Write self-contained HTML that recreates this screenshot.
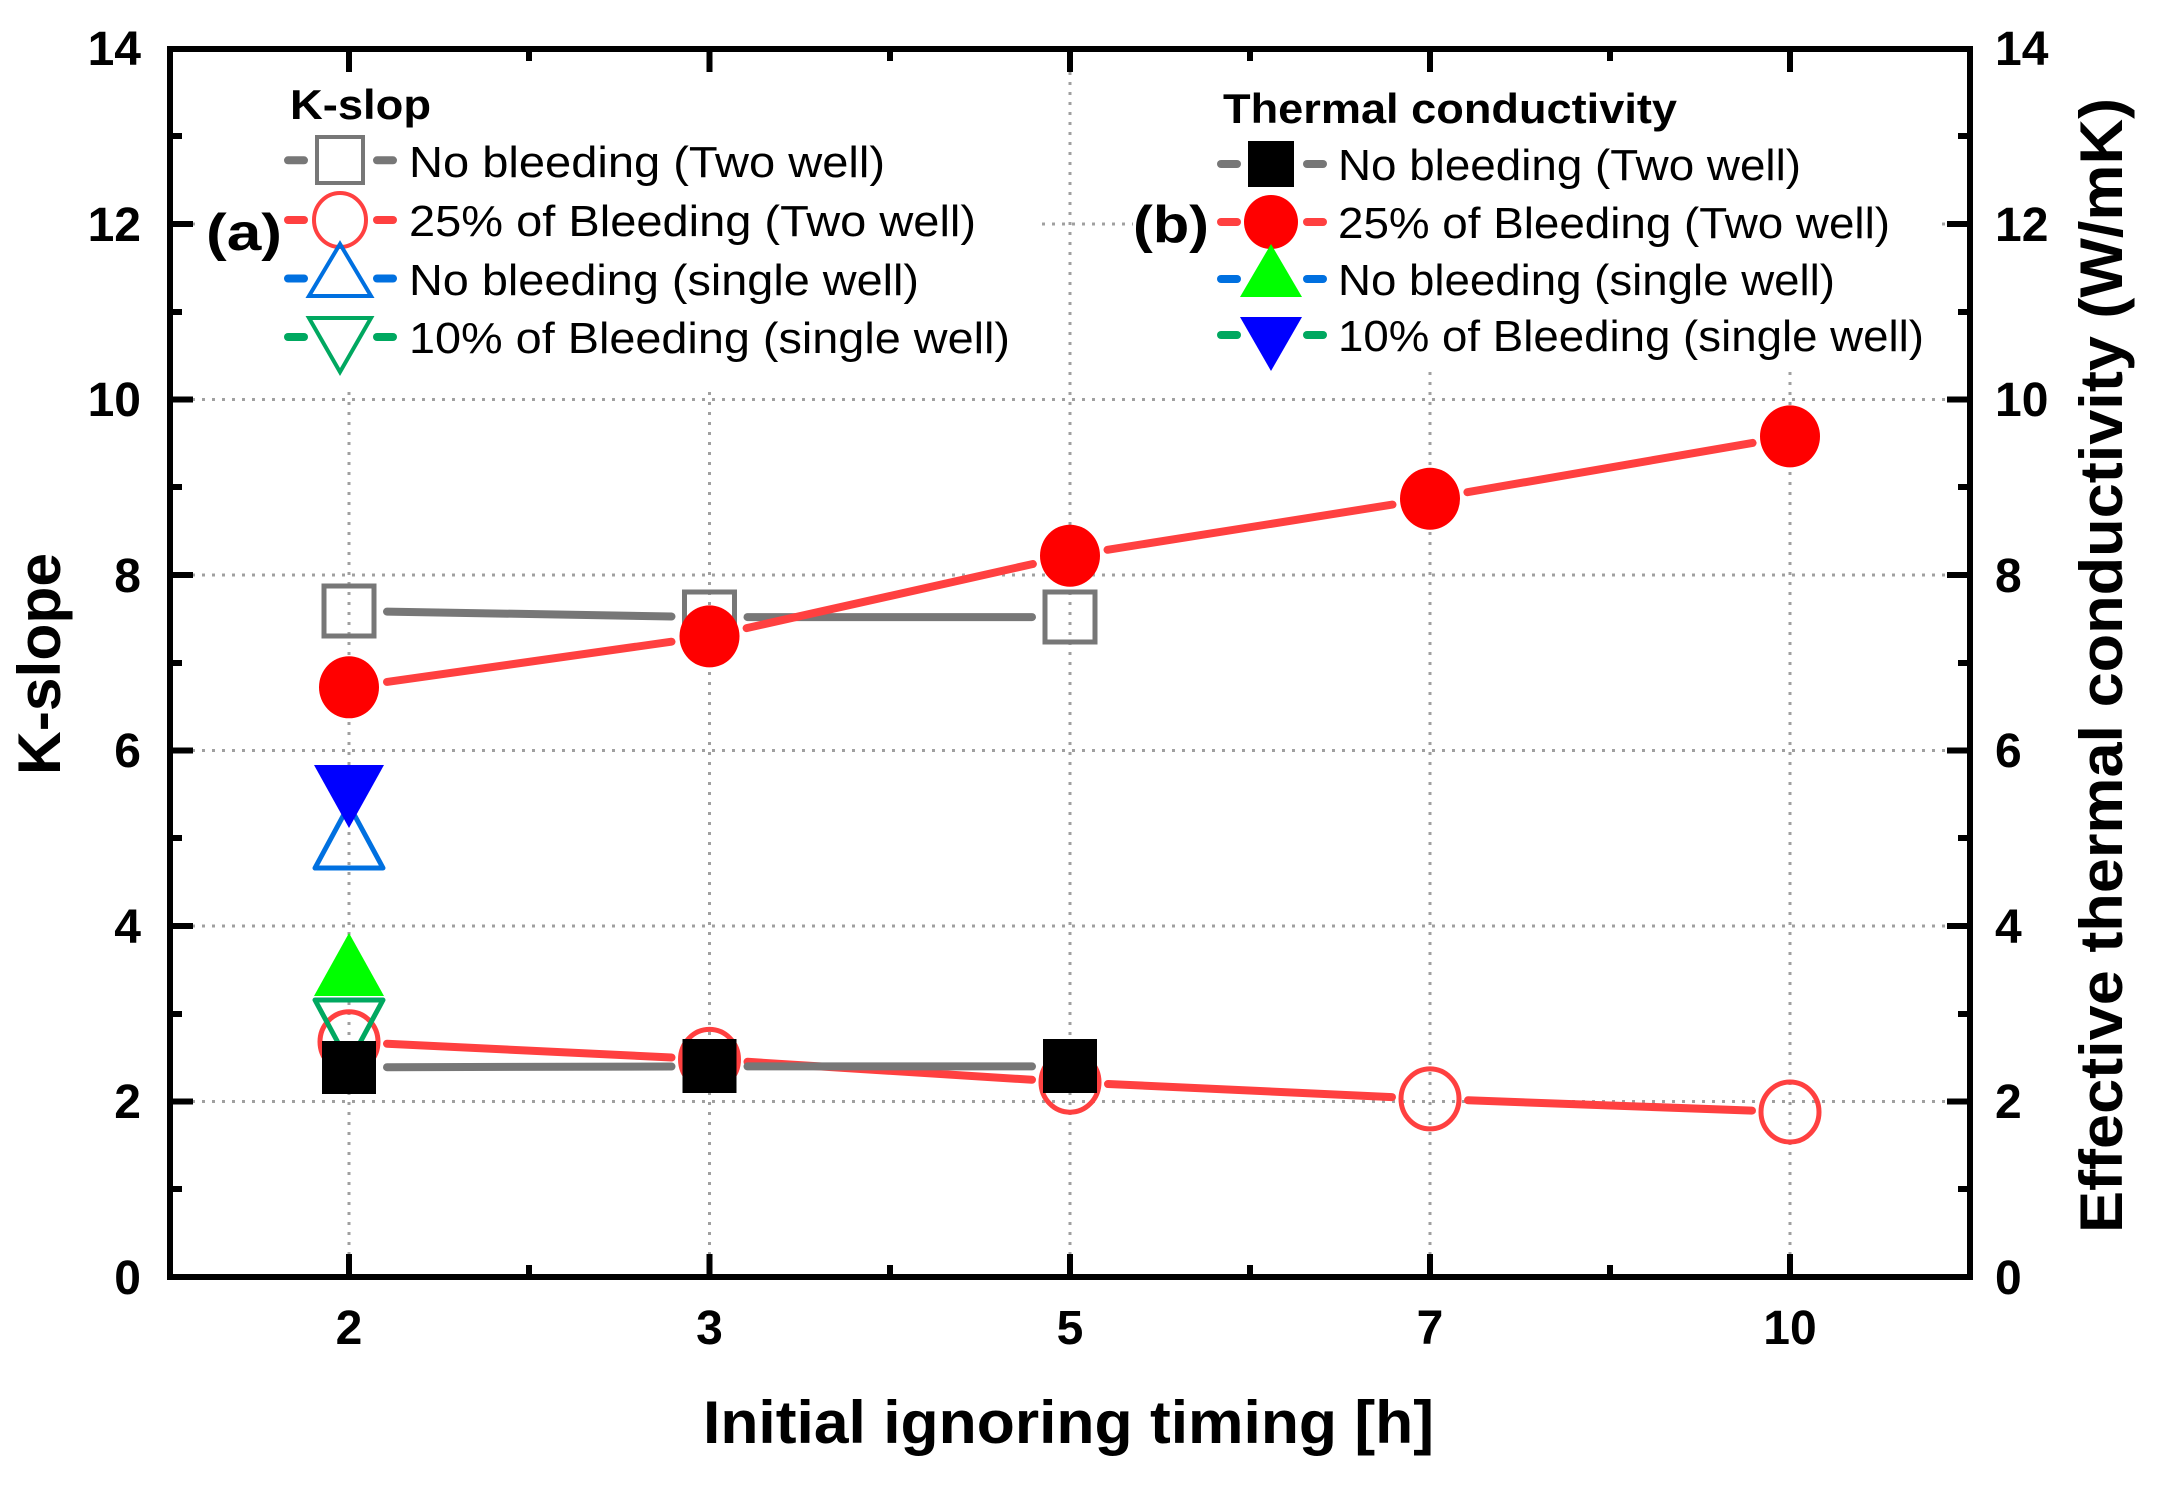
<!DOCTYPE html>
<html><head><meta charset="utf-8"><style>
html,body{margin:0;padding:0;background:#fff}
svg{display:block}
text{font-family:"Liberation Sans",Arial,sans-serif}
</style></head><body>
<svg width="2166" height="1489" viewBox="0 0 2166 1489" xmlns="http://www.w3.org/2000/svg">
<rect width="2166" height="1489" fill="#fff"/>
<!-- grid -->
<g stroke="#a0a0a0" stroke-width="3" stroke-dasharray="3 7" fill="none">
<line x1="172" y1="1101.5" x2="1968" y2="1101.5"/>
<line x1="172" y1="926" x2="1968" y2="926"/>
<line x1="172" y1="750.5" x2="1968" y2="750.5"/>
<line x1="172" y1="575" x2="1968" y2="575"/>
<line x1="172" y1="399.5" x2="1968" y2="399.5"/>
<line x1="172" y1="224" x2="1968" y2="224"/>
<line x1="349" y1="52" x2="349" y2="1275"/>
<line x1="709.5" y1="52" x2="709.5" y2="1275"/>
<line x1="1070" y1="52" x2="1070" y2="1275"/>
<line x1="1430" y1="52" x2="1430" y2="1275"/>
<line x1="1790" y1="52" x2="1790" y2="1275"/>
</g>
<!-- legend backgrounds -->
<rect x="196" y="52" width="844" height="338" fill="#fff"/>
<rect x="1133" y="52" width="802" height="320" fill="#fff"/>
<!-- axes frame -->
<rect x="170" y="49" width="1800" height="1228" fill="none" stroke="#000" stroke-width="6"/>
<g stroke="#000" stroke-width="6">
<line x1="349" y1="1277" x2="349" y2="1254"/><line x1="709.5" y1="1277" x2="709.5" y2="1254"/><line x1="1070" y1="1277" x2="1070" y2="1254"/><line x1="1430" y1="1277" x2="1430" y2="1254"/><line x1="1790" y1="1277" x2="1790" y2="1254"/>
<line x1="529" y1="1277" x2="529" y2="1265"/><line x1="890" y1="1277" x2="890" y2="1265"/><line x1="1250" y1="1277" x2="1250" y2="1265"/><line x1="1610" y1="1277" x2="1610" y2="1265"/>
<line x1="349" y1="49" x2="349" y2="72"/><line x1="709.5" y1="49" x2="709.5" y2="72"/><line x1="1070" y1="49" x2="1070" y2="72"/><line x1="1430" y1="49" x2="1430" y2="72"/><line x1="1790" y1="49" x2="1790" y2="72"/>
<line x1="529" y1="49" x2="529" y2="61"/><line x1="890" y1="49" x2="890" y2="61"/><line x1="1250" y1="49" x2="1250" y2="61"/><line x1="1610" y1="49" x2="1610" y2="61"/>
<line x1="170" y1="1101.5" x2="193" y2="1101.5"/><line x1="170" y1="926" x2="193" y2="926"/><line x1="170" y1="750.5" x2="193" y2="750.5"/><line x1="170" y1="575" x2="193" y2="575"/><line x1="170" y1="399.5" x2="193" y2="399.5"/><line x1="170" y1="224" x2="193" y2="224"/>
<line x1="170" y1="1189" x2="182" y2="1189"/><line x1="170" y1="1014" x2="182" y2="1014"/><line x1="170" y1="838" x2="182" y2="838"/><line x1="170" y1="663" x2="182" y2="663"/><line x1="170" y1="487" x2="182" y2="487"/><line x1="170" y1="312" x2="182" y2="312"/><line x1="170" y1="136" x2="182" y2="136"/>
<line x1="1970" y1="1101.5" x2="1947" y2="1101.5"/><line x1="1970" y1="926" x2="1947" y2="926"/><line x1="1970" y1="750.5" x2="1947" y2="750.5"/><line x1="1970" y1="575" x2="1947" y2="575"/><line x1="1970" y1="399.5" x2="1947" y2="399.5"/><line x1="1970" y1="224" x2="1947" y2="224"/>
<line x1="1970" y1="1189" x2="1958" y2="1189"/><line x1="1970" y1="1014" x2="1958" y2="1014"/><line x1="1970" y1="838" x2="1958" y2="838"/><line x1="1970" y1="663" x2="1958" y2="663"/><line x1="1970" y1="487" x2="1958" y2="487"/><line x1="1970" y1="312" x2="1958" y2="312"/><line x1="1970" y1="136" x2="1958" y2="136"/>
</g>
<!-- tick labels -->
<g font-size="48" font-weight="bold" fill="#000">
<g text-anchor="end">
<text x="141" y="1294">0</text><text x="141" y="1118">2</text><text x="141" y="943">4</text><text x="141" y="767">6</text><text x="141" y="592">8</text><text x="141" y="416">10</text><text x="141" y="241">12</text><text x="141" y="65">14</text>
</g>
<g text-anchor="start">
<text x="1995" y="1294">0</text><text x="1995" y="1118">2</text><text x="1995" y="943">4</text><text x="1995" y="767">6</text><text x="1995" y="592">8</text><text x="1995" y="416">10</text><text x="1995" y="241">12</text><text x="1995" y="65">14</text>
</g>
<g text-anchor="middle">
<text x="349" y="1344">2</text><text x="709.5" y="1344">3</text><text x="1070" y="1344">5</text><text x="1430" y="1344">7</text><text x="1790" y="1344">10</text>
</g>
</g>
<!-- axis titles -->
<text x="703" y="1443" font-size="60" font-weight="bold" textLength="731" lengthAdjust="spacingAndGlyphs">Initial ignoring timing [h]</text>
<text transform="translate(60,775) rotate(-90)" font-size="60" font-weight="bold" textLength="222" lengthAdjust="spacingAndGlyphs">K-slope</text>
<text transform="translate(2122,1233) rotate(-90)" font-size="60" font-weight="bold" textLength="1135" lengthAdjust="spacingAndGlyphs">Effective thermal conductivity (W/mK)</text>

<!-- series lines -->
<g fill="none" stroke-linecap="round" stroke-width="8">
<g stroke="#777">
<line x1="387" y1="611.6" x2="671.5" y2="616.5"/><line x1="747.5" y1="617.1" x2="1032" y2="617.1"/>
</g>
<g stroke="#ff4040">
<line x1="387" y1="1043.7" x2="671.5" y2="1057.5"/><line x1="747.5" y1="1061.8" x2="1032" y2="1079.8"/><line x1="1108" y1="1084" x2="1392" y2="1097.1"/><line x1="1468" y1="1100.3" x2="1752" y2="1110.6"/>
</g>
</g>
<g fill="none" stroke-width="5">
<g stroke="#777">
<rect x="324" y="586" width="50" height="50"/><rect x="684.5" y="592" width="50" height="50"/><rect x="1045" y="592" width="50" height="50"/>
</g>
<g stroke="#ff4040">
<ellipse cx="349" cy="1041.8" rx="29" ry="30"/><ellipse cx="709.5" cy="1059.4" rx="29" ry="30"/><ellipse cx="1070" cy="1082.2" rx="29" ry="30"/><ellipse cx="1430" cy="1098.9" rx="29" ry="30"/><ellipse cx="1790" cy="1112" rx="29" ry="30"/>
</g>
<polygon stroke="#0070e0" stroke-linejoin="round" points="349,805 315,868 383,868"/>
<polygon stroke="#00a860" stroke-linejoin="round" points="315,1000 383,1000 349,1063"/>
</g>
<g fill="none" stroke-linecap="round" stroke-width="8">
<g stroke="#777">
<line x1="387" y1="1067.2" x2="671.5" y2="1066.5"/><line x1="747.5" y1="1066.4" x2="1032" y2="1066.4"/>
</g>
<g stroke="#ff4040">
<line x1="387" y1="681.9" x2="671.5" y2="641.7"/><line x1="746.6" y1="628.1" x2="1032.9" y2="564"/><line x1="1107.5" y1="549.8" x2="1392.5" y2="504.6"/><line x1="1467.4" y1="492.2" x2="1752.6" y2="442.9"/>
</g>
</g>
<g fill="#000">
<rect x="322" y="1041" width="54" height="53"/><rect x="682.5" y="1039" width="54" height="54"/><rect x="1043" y="1039" width="54" height="54"/>
</g>
<g fill="#ff0000">
<ellipse cx="349" cy="687.3" rx="30" ry="31"/><ellipse cx="709.5" cy="636.4" rx="30" ry="31"/><ellipse cx="1070" cy="555.7" rx="30" ry="31"/><ellipse cx="1430" cy="498.7" rx="30" ry="31"/><ellipse cx="1790" cy="436.4" rx="30" ry="31"/>
</g>
<polygon fill="#00ff00" points="349,933 314,996 384,996"/>
<polygon fill="#0000ff" points="314,765 384,765 349,828"/>

<!-- legend (a) -->
<text x="290" y="119" font-size="42" font-weight="bold" textLength="141" lengthAdjust="spacingAndGlyphs">K-slop</text>
<text x="206" y="250" font-size="52" font-weight="bold" textLength="76" lengthAdjust="spacingAndGlyphs">(a)</text>
<g stroke-width="8" stroke-linecap="round">
<line x1="288" y1="160.3" x2="304" y2="160.3" stroke="#777"/><line x1="377" y1="160.3" x2="393" y2="160.3" stroke="#777"/>
<line x1="288" y1="220" x2="304" y2="220" stroke="#ff4040"/><line x1="377" y1="220" x2="393" y2="220" stroke="#ff4040"/>
<line x1="288" y1="278.5" x2="304" y2="278.5" stroke="#0070e0"/><line x1="377" y1="278.5" x2="393" y2="278.5" stroke="#0070e0"/>
<line x1="288" y1="337" x2="304" y2="337" stroke="#00a860"/><line x1="377" y1="337" x2="393" y2="337" stroke="#00a860"/>
</g>
<g fill="none" stroke-width="4">
<rect x="317" y="137" width="46" height="46" stroke="#777"/>
<ellipse cx="340" cy="220" rx="26" ry="27" stroke="#ff4040"/>
<polygon points="340,244 309,296 371,296" stroke="#0070e0"/>
<polygon points="309,318 371,318 340,372" stroke="#00a860"/>
</g>
<g font-size="44">
<text x="409" y="177" textLength="476" lengthAdjust="spacingAndGlyphs">No bleeding (Two well)</text>
<text x="409" y="236" textLength="567" lengthAdjust="spacingAndGlyphs">25% of Bleeding (Two well)</text>
<text x="409" y="295" textLength="510" lengthAdjust="spacingAndGlyphs">No bleeding (single well)</text>
<text x="409" y="353" textLength="601" lengthAdjust="spacingAndGlyphs">10% of Bleeding (single well)</text>
</g>

<!-- legend (b) -->
<text x="1223" y="123" font-size="42" font-weight="bold" textLength="454" lengthAdjust="spacingAndGlyphs">Thermal conductivity</text>
<text x="1133" y="242" font-size="52" font-weight="bold" textLength="76" lengthAdjust="spacingAndGlyphs">(b)</text>
<g stroke-width="8" stroke-linecap="round">
<line x1="1221" y1="164" x2="1237" y2="164" stroke="#777"/><line x1="1307" y1="164" x2="1323" y2="164" stroke="#777"/>
<line x1="1221" y1="222" x2="1237" y2="222" stroke="#ff4040"/><line x1="1307" y1="222" x2="1323" y2="222" stroke="#ff4040"/>
<line x1="1221" y1="279" x2="1237" y2="279" stroke="#0070e0"/><line x1="1307" y1="279" x2="1323" y2="279" stroke="#0070e0"/>
<line x1="1221" y1="335" x2="1237" y2="335" stroke="#00a860"/><line x1="1307" y1="335" x2="1323" y2="335" stroke="#00a860"/>
</g>
<rect x="1248" y="141" width="46" height="46" fill="#000"/>
<ellipse cx="1271" cy="222" rx="27" ry="27" fill="#ff0000"/>
<polygon points="1271,244 1240,297 1302,297" fill="#00ff00"/>
<polygon points="1240,317 1302,317 1271,371" fill="#0000ff"/>
<g font-size="44">
<text x="1338" y="180" textLength="463" lengthAdjust="spacingAndGlyphs">No bleeding (Two well)</text>
<text x="1338" y="238" textLength="552" lengthAdjust="spacingAndGlyphs">25% of Bleeding (Two well)</text>
<text x="1338" y="295" textLength="497" lengthAdjust="spacingAndGlyphs">No bleeding (single well)</text>
<text x="1338" y="351" textLength="586" lengthAdjust="spacingAndGlyphs">10% of Bleeding (single well)</text>
</g>
</svg>
</body></html>
